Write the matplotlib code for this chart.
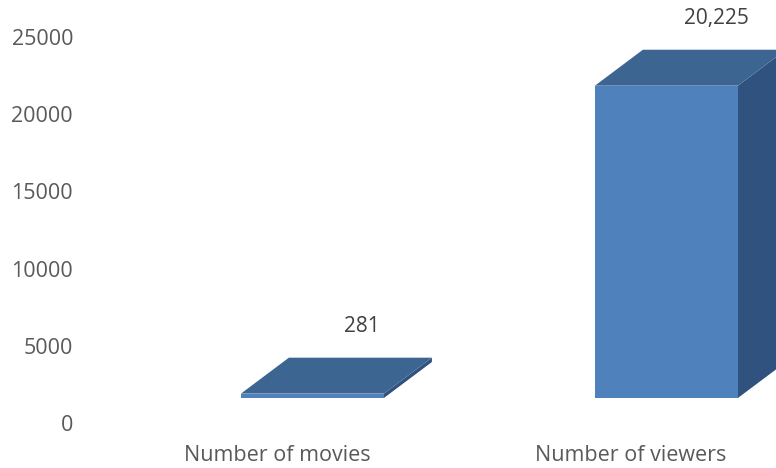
import numpy as np
import matplotlib.pyplot as plt
from matplotlib.patches import Polygon

categories = ['Number of movies', 'Number of viewers']
values = [281, 20225]
value_labels = ['281', '20,225']
yticks = [0, 5000, 10000, 15000, 20000, 25000]

front_col = '#4f81bd'
top_col = '#3d6592'
side_col = '#30527f'
text_col = '#595959'

plt.rcParams['font.family'] = ['Open Sans', 'DejaVu Sans']

fig = plt.figure(figsize=(7.76, 4.68), dpi=100)
ax = fig.add_axes([80 / 776, 28 / 468, 696 / 776, 440 / 468])

ax.set_xlim(-0.5565, 1.4096)
ax.set_ylim(-1101, 27396)

# fake 3d: front face shifted, depth offset up-right
base = 1620
shift = 0.1
w = 0.404
dx = 0.1356
dy = 2330

for i, v in enumerate(values):
    x0 = i + shift - w / 2
    x1 = i + shift + w / 2
    y0 = base
    y1 = base + v
    front = Polygon([(x0, y0), (x1, y0), (x1, y1), (x0, y1)], closed=True,
                    facecolor=front_col, edgecolor='none')
    top = Polygon([(x0, y1), (x1, y1), (x1 + dx, y1 + dy), (x0 + dx, y1 + dy)],
                  closed=True, facecolor=top_col, edgecolor='none')
    side = Polygon([(x1, y0), (x1 + dx, y0 + dy), (x1 + dx, y1 + dy), (x1, y1)],
                   closed=True, facecolor=side_col, edgecolor='none')
    ax.add_patch(side)
    ax.add_patch(top)
    ax.add_patch(front)
    ax.text(i + shift + 0.14, y1 + dy + 2000, value_labels[i],
            ha='center', va='center', fontsize=15, color='#404040')

ax.set_yticks(yticks)
ax.set_yticklabels([str(t) for t in yticks])
ax.set_xticks(range(len(categories)))
ax.set_xticklabels(categories)
ax.tick_params(axis='both', length=0, labelsize=15.5, labelcolor=text_col)
ax.tick_params(axis='y', pad=5)
ax.tick_params(axis='x', pad=3.5)
for s in ax.spines.values():
    s.set_visible(False)

fig.savefig('out.png', dpi=100)
